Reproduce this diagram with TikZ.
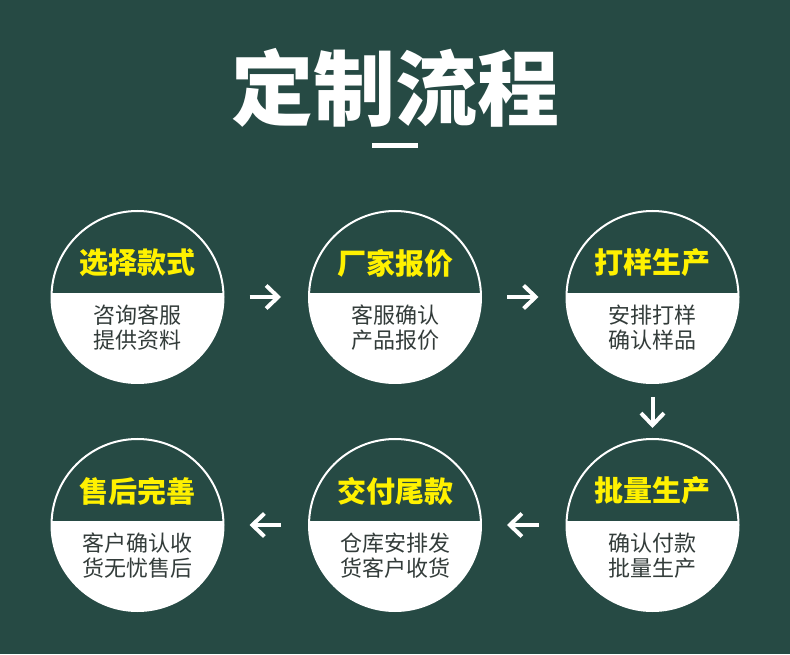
\documentclass[tikz,border=0pt]{standalone}
\usepackage{fontspec}
\setmainfont{Noto Sans CJK SC}
\usetikzlibrary{arrows.meta,positioning}
\definecolor{bgreen}{RGB}{38,74,68}
\definecolor{hyellow}{RGB}{255,241,0}
\definecolor{bodygray}{RGB}{51,60,58}

\begin{document}
\begin{tikzpicture}[
    node distance=83.5pt,
    stepcirc/.style={circle, minimum size=172pt, draw=white, line width=2pt, fill=bgreen, inner sep=0pt,
      path picture={\fill[white] ([yshift=4pt]path picture bounding box.west) rectangle (path picture bounding box.south east);}},
    head/.style={font=\bfseries\fontsize{29pt}{29pt}\selectfont, text=hyellow, inner sep=0pt},
    body/.style={font=\fontsize{22pt}{25pt}\selectfont, text=bodygray, align=center, inner sep=0pt},
    arrow/.style={-{Straight Barb[length=12pt,width=23pt]}, line width=4pt, white}]

    \fill[bgreen] (0,0) rectangle (790pt,654pt);

    \node[font=\bfseries\fontsize{82pt}{82pt}\selectfont, text=white] (title) at (395pt,566pt) {定制流程};
    \node[fill=white, minimum width=46pt, minimum height=4.5pt, inner sep=0pt] (bar) at (395pt,508.5pt) {};

    % first row
    \node[stepcirc] (s1) at (137.5pt,357pt) {};
    \node[stepcirc, right=of s1] (s2) {};
    \node[stepcirc, right=of s2] (s3) {};
    % second row
    \node[stepcirc, below=54pt of s3] (s4) {};
    \node[stepcirc, left=of s4] (s5) {};
    \node[stepcirc, left=of s5] (s6) {};

    \node[head] at ([yshift=34pt]s1.center) {选择款式};
    \node[body] at ([yshift=-30.5pt]s1.center) {咨询客服\\提供资料};
    \node[head] at ([yshift=34pt]s2.center) {厂家报价};
    \node[body] at ([yshift=-30.5pt]s2.center) {客服确认\\产品报价};
    \node[head] at ([yshift=34pt]s3.center) {打样生产};
    \node[body] at ([yshift=-30.5pt]s3.center) {安排打样\\确认样品};
    \node[head] at ([yshift=34pt]s4.center) {批量生产};
    \node[body] at ([yshift=-30.5pt]s4.center) {确认付款\\批量生产};
    \node[head] at ([yshift=34pt]s5.center) {交付尾款};
    \node[body] at ([yshift=-30.5pt]s5.center) {仓库安排发\\货客户收货};
    \node[head] at ([yshift=34pt]s6.center) {售后完善};
    \node[body] at ([yshift=-30.5pt]s6.center) {客户确认收\\货无忧售后};

    \draw[arrow, shorten <=25pt, shorten >=27pt] (s1) -- (s2);
    \draw[arrow, shorten <=25pt, shorten >=27pt] (s2) -- (s3);
    \draw[arrow, shorten <=13pt, shorten >=10pt] (s3) -- (s4);
    \draw[arrow, shorten <=27pt, shorten >=25pt] (s4) -- (s5);
    \draw[arrow, shorten <=27pt, shorten >=25pt] (s5) -- (s6);
\end{tikzpicture}
\end{document}
